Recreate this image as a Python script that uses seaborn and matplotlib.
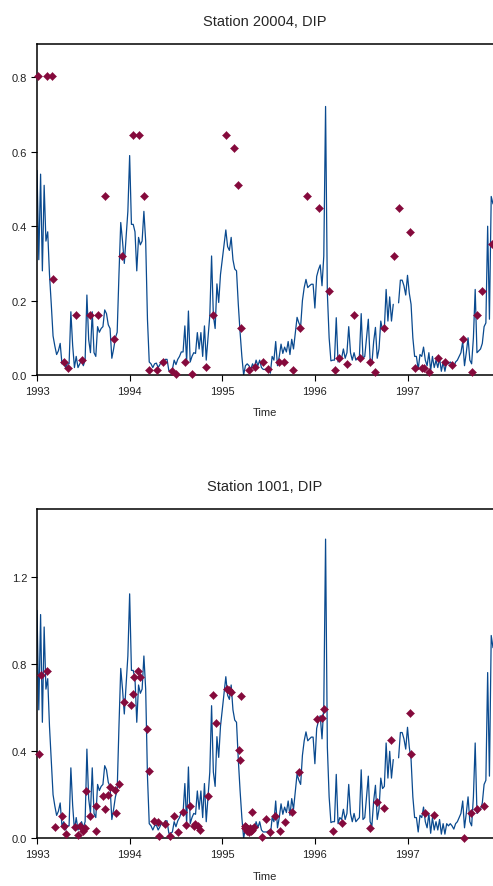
import numpy as np
import pandas as pd
import matplotlib
matplotlib.use("Agg")
import matplotlib.pyplot as plt
import seaborn as sns

# ---------------- data ----------------
# weekly model output (decimal years starting 1993.0, one value per week)
start_year = 1993.0
weeks_per_year = 52

line_20004 = [
    0.55, 0.31, 0.54, 0.28, 0.51, 0.36, 0.385, 0.27, 0.19, 0.105,
    0.078, 0.055, 0.065, 0.085, 0.03, 0.04, 0.02, 0.03, 0.03, 0.17,
    0.08, 0.02, 0.05, 0.02, 0.03, 0.04, 0.025, 0.04, 0.215, 0.095,
    0.06, 0.17, 0.06, 0.05, 0.13, 0.115, 0.125, 0.13, 0.175, 0.165,
    0.135, 0.125, 0.045, 0.07, 0.1, 0.115, 0.27, 0.41, 0.36, 0.30,
    0.37, 0.44, 0.59, 0.405, 0.405, 0.385, 0.28, 0.37, 0.35, 0.36,
    0.44, 0.36, 0.15, 0.035, 0.03, 0.02, 0.03, 0.032, 0.02, 0.028,
    0.038, 0.03, 0.042, 0.042, 0.012, 0.012, 0.015, 0.04, 0.028, 0.042,
    0.05, 0.062, 0.062, 0.132, 0.035, 0.172, 0.035, 0.05, 0.06, 0.058,
    0.114, 0.07, 0.114, 0.05, 0.132, 0.04, 0.10, 0.16, 0.32, 0.16,
    0.125, 0.245, 0.195, 0.27, 0.31, 0.35, 0.39, 0.345, 0.335, 0.37,
    0.31, 0.285, 0.28, 0.19, 0.115, 0.05, 0.0, 0.025, 0.03, 0.025,
    0.015, 0.03, 0.02, 0.04, 0.025, 0.04, 0.02, 0.015, 0.015, 0.015,
    0.018, 0.005, 0.05, 0.04, 0.09, 0.025, 0.05, 0.083, 0.058, 0.075,
    0.062, 0.09, 0.055, 0.096, 0.07, 0.113, 0.155, 0.14, 0.13, 0.2,
    0.235, 0.257, 0.235, 0.24, 0.244, 0.244, 0.18, 0.265, 0.283, 0.296,
    0.24, 0.32, 0.722, 0.22, 0.1, 0.038, 0.04, 0.04, 0.154, 0.035,
    0.05, 0.045, 0.07, 0.045, 0.06, 0.13, 0.06, 0.04, 0.06, 0.04,
    0.045, 0.05, 0.165, 0.045, 0.05, 0.1, 0.15, 0.04, 0.03, 0.09,
    0.128, 0.045, 0.07, 0.145, 0.12, 0.125, 0.23, 0.145, 0.21, 0.145,
    0.19, np.nan, np.nan, 0.194, 0.255, 0.255, 0.24, 0.215, 0.268, 0.22,
    0.19, 0.10, 0.05, 0.05, 0.015, 0.055, 0.05, 0.075, 0.04, 0.025,
    0.06, 0.012, 0.05, 0.02, 0.04, 0.02, 0.045, 0.01, 0.035, 0.01,
    0.035, 0.03, 0.035, 0.03, 0.022, 0.035, 0.04, 0.05, 0.06, 0.09,
    0.025, 0.06, 0.1, 0.04, 0.03, 0.1, 0.23, 0.06, 0.065, 0.07,
    0.085, 0.13, 0.14, 0.40, 0.15, 0.48, 0.46,
]

line_1001 = [
    1.045, 0.589, 1.026, 0.532, 0.969, 0.684, 0.732, 0.513, 0.361, 0.2,
    0.148, 0.105, 0.124, 0.162, 0.057, 0.076, 0.038, 0.057, 0.057, 0.323,
    0.152, 0.038, 0.095, 0.038, 0.057, 0.076, 0.048, 0.076, 0.409, 0.181,
    0.114, 0.323, 0.114, 0.095, 0.247, 0.219, 0.238, 0.247, 0.333, 0.314,
    0.257, 0.238, 0.086, 0.133, 0.19, 0.219, 0.513, 0.779, 0.684, 0.57,
    0.703, 0.836, 1.121, 0.77, 0.77, 0.732, 0.532, 0.703, 0.665, 0.684,
    0.836, 0.684, 0.285, 0.067, 0.057, 0.038, 0.057, 0.061, 0.038, 0.053,
    0.072, 0.057, 0.08, 0.08, 0.023, 0.023, 0.029, 0.076, 0.053, 0.08,
    0.095, 0.118, 0.118, 0.251, 0.067, 0.327, 0.067, 0.095, 0.114, 0.11,
    0.217, 0.133, 0.217, 0.095, 0.251, 0.076, 0.19, 0.304, 0.608, 0.304,
    0.238, 0.466, 0.371, 0.513, 0.589, 0.665, 0.741, 0.656, 0.637, 0.703,
    0.589, 0.542, 0.532, 0.361, 0.219, 0.095, 0.0, 0.048, 0.057, 0.048,
    0.029, 0.057, 0.038, 0.076, 0.048, 0.076, 0.038, 0.029, 0.029, 0.029,
    0.034, 0.01, 0.095, 0.076, 0.171, 0.048, 0.095, 0.158, 0.11, 0.143,
    0.118, 0.171, 0.105, 0.182, 0.133, 0.215, 0.295, 0.266, 0.247, 0.38,
    0.447, 0.488, 0.447, 0.456, 0.464, 0.464, 0.342, 0.504, 0.538, 0.562,
    0.456, 0.608, 1.372, 0.418, 0.19, 0.072, 0.076, 0.076, 0.293, 0.067,
    0.095, 0.086, 0.133, 0.086, 0.114, 0.247, 0.114, 0.076, 0.114, 0.076,
    0.086, 0.095, 0.314, 0.086, 0.095, 0.19, 0.285, 0.076, 0.057, 0.171,
    0.243, 0.086, 0.133, 0.276, 0.228, 0.238, 0.437, 0.276, 0.399, 0.276,
    0.361, np.nan, np.nan, 0.369, 0.485, 0.485, 0.456, 0.409, 0.509, 0.418,
    0.361, 0.19, 0.095, 0.095, 0.029, 0.105, 0.095, 0.143, 0.076, 0.048,
    0.114, 0.023, 0.095, 0.038, 0.076, 0.038, 0.086, 0.019, 0.067, 0.019,
    0.067, 0.057, 0.067, 0.057, 0.042, 0.067, 0.076, 0.095, 0.114, 0.171,
    0.048, 0.114, 0.19, 0.076, 0.057, 0.19, 0.437, 0.114, 0.124, 0.133,
    0.162, 0.247, 0.266, 0.76, 0.285, 0.93, 0.874,
]

# observations (decimal year, value)
obs_20004_t = [
    1993.007, 1993.105, 1993.166, 1993.176, 1993.295, 1993.331, 1993.425,
    1993.486, 1993.577, 1993.656, 1993.735, 1993.829, 1993.922, 1994.038,
    1994.099, 1994.153, 1994.211, 1994.290, 1994.362, 1994.456, 1994.499,
    1994.593, 1994.668, 1994.824, 1994.900, 1995.036, 1995.130, 1995.166,
    1995.205, 1995.285, 1995.357, 1995.436, 1995.494, 1995.609, 1995.663,
    1995.760, 1995.836, 1995.916, 1996.045, 1996.157, 1996.222, 1996.258,
    1996.351, 1996.427, 1996.485, 1996.600, 1996.654, 1996.751, 1996.849,
    1996.906, 1997.022, 1997.076, 1997.159, 1997.176, 1997.230, 1997.328,
    1997.403, 1997.483, 1997.595, 1997.692, 1997.746, 1997.805, 1997.914,
]
obs_20004_v = [
    0.805, 0.805, 0.805, 0.257, 0.036, 0.02, 0.16,
    0.04, 0.16, 0.16, 0.481, 0.096, 0.321, 0.644,
    0.644, 0.481, 0.014, 0.013, 0.034, 0.012, 0.002,
    0.034, 0.002, 0.022, 0.16, 0.644, 0.609, 0.512,
    0.127, 0.013, 0.022, 0.036, 0.016, 0.034, 0.036,
    0.013, 0.127, 0.481, 0.448, 0.225, 0.013, 0.045,
    0.030, 0.160, 0.047, 0.036, 0.009, 0.127, 0.321,
    0.448, 0.385, 0.020, 0.020, 0.018, 0.007, 0.045,
    0.036, 0.027, 0.096, 0.009, 0.160, 0.225, 0.353,
]

obs_1001_t = [
    1993.025, 1993.047, 1993.105, 1993.198, 1993.274, 1993.296, 1993.314,
    1993.407, 1993.447, 1993.465, 1993.497, 1993.519, 1993.526, 1993.577,
    1993.638, 1993.641, 1993.710, 1993.735, 1993.771, 1993.789, 1993.843,
    1993.851, 1993.886, 1993.944, 1994.020, 1994.038, 1994.052, 1994.095,
    1994.114, 1994.186, 1994.204, 1994.268, 1994.305, 1994.322, 1994.380,
    1994.438, 1994.481, 1994.517, 1994.575, 1994.611, 1994.650, 1994.690,
    1994.708, 1994.737, 1994.762, 1994.841, 1994.899, 1994.935, 1995.050,
    1995.068, 1995.094, 1995.184, 1995.187, 1995.205, 1995.241, 1995.250,
    1995.259, 1995.268, 1995.278, 1995.287, 1995.296, 1995.305, 1995.317,
    1995.326, 1995.340, 1995.432, 1995.468, 1995.511, 1995.566, 1995.627,
    1995.681, 1995.757, 1995.832, 1996.023, 1996.078, 1996.096, 1996.196,
    1996.294, 1996.600, 1996.672, 1996.751, 1996.827, 1997.022, 1997.036,
    1997.188, 1997.285, 1997.609, 1997.689, 1997.746, 1997.825,
]
obs_1001_v = [
    0.387, 0.75, 0.769, 0.053, 0.102, 0.056, 0.02,
    0.053, 0.017, 0.056, 0.032, 0.047, 0.216, 0.102,
    0.15, 0.032, 0.194, 0.133, 0.199, 0.234, 0.222,
    0.115, 0.249, 0.625, 0.61, 0.662, 0.738, 0.769,
    0.738, 0.503, 0.307, 0.078, 0.076, 0.009, 0.066,
    0.009, 0.101, 0.03, 0.122, 0.063, 0.15, 0.058,
    0.066, 0.055, 0.04, 0.193, 0.659, 0.527, 0.685,
    0.68, 0.67, 0.406, 0.36, 0.653, 0.058, 0.045,
    0.053, 0.035, 0.043, 0.03, 0.045, 0.035, 0.12,
    0.04, 0.05, 0.006, 0.088, 0.03, 0.104, 0.032,
    0.073, 0.119, 0.303, 0.547, 0.552, 0.593, 0.032,
    0.069, 0.046, 0.165, 0.139, 0.451, 0.575, 0.387,
    0.117, 0.108, 0.0, 0.117, 0.136, 0.147,
]

panels = [
    ("Station 20004, DIP", line_20004, obs_20004_t, obs_20004_v,
     0.89, [0.0, 0.2, 0.4, 0.6, 0.8]),
    ("Station 1001, DIP", line_1001, obs_1001_t, obs_1001_v,
     1.51, [0.0, 0.4, 0.8, 1.2]),
]
year_ticks = [1993, 1994, 1995, 1996, 1997]

# ---------------- style ----------------
sns.set_theme(style="ticks")
plt.rcParams["font.family"] = ["Liberation Sans", "DejaVu Sans"]
plt.rcParams["axes.linewidth"] = 1.1

LINE_COLOR = "#0a4a8f"
PT_COLOR = "#850a3c"

fig = plt.figure(figsize=(4.93, 8.87), dpi=100)
rects = [[0.0751, 0.5761, 0.9249, 0.3732], [0.0751, 0.0538, 0.9249, 0.3712]]

for rect, (title, vals, ot, ov, ytop, yt) in zip(rects, panels):
    ax = fig.add_axes(rect)
    n = len(vals)
    t = start_year + np.arange(n) / weeks_per_year
    v = np.array(vals, dtype=float)
    seg = np.cumsum(np.isnan(v))
    df = pd.DataFrame({"Time": t, "val": v, "seg": seg}).dropna()
    sns.lineplot(data=df, x="Time", y="val", units="seg", estimator=None,
                 color=LINE_COLOR, linewidth=0.9, ax=ax, legend=False)
    dfo = pd.DataFrame({"Time": ot, "val": ov})
    sns.scatterplot(data=dfo, x="Time", y="val", marker="D", s=17,
                    color=PT_COLOR, edgecolor=PT_COLOR, linewidth=0.3,
                    ax=ax, legend=False, zorder=3, clip_on=False)
    ax.set_xlim(start_year, start_year + (n - 1) / weeks_per_year)
    ax.set_ylim(0, ytop)
    ax.set_xticks(year_ticks)
    ax.set_xticklabels([str(y) for y in year_ticks])
    ax.set_yticks(yt)
    ax.set_yticklabels([f"{y:.1f}" for y in yt])
    ax.tick_params(axis="both", labelsize=8, length=4, width=0.8,
                   color="black", labelcolor="#222222")
    ax.tick_params(axis="x", pad=4)
    ax.tick_params(axis="y", pad=3)
    ax.set_xlabel("Time", fontsize=8, labelpad=8)
    ax.set_ylabel("")
    ax.set_title(title, fontsize=10.5, pad=14)
    for s in ["left", "bottom", "top"]:
        ax.spines[s].set_color("black")
    ax.spines["right"].set_visible(False)

fig.savefig("out.png", dpi=100)
